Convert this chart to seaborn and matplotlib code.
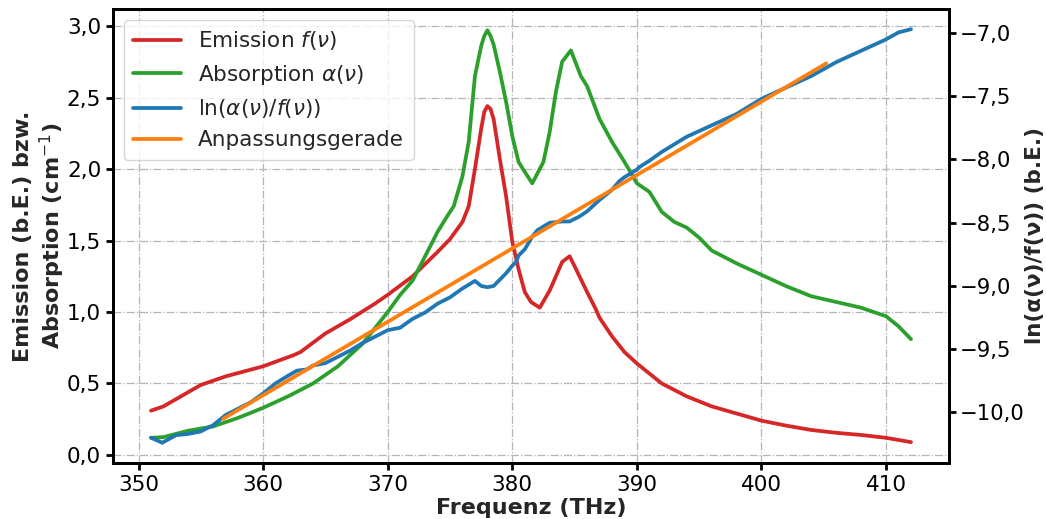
import numpy as np
import pandas as pd
import matplotlib
matplotlib.use("Agg")
import matplotlib.pyplot as plt
from matplotlib.ticker import FuncFormatter, MultipleLocator
import seaborn as sns

# ---- data ----
em_freq = [351, 352, 353, 355, 357, 360, 362.5, 363, 365, 367, 369, 370, 372, 374, 375, 376,
           376.5, 377, 377.5, 377.75, 378, 378.25, 378.5, 379, 379.5, 380, 380.5, 381, 381.5,
           382.2, 383, 384, 384.6, 385, 386, 386.7, 387, 388, 389, 390, 392, 394, 396, 398,
           400, 402, 404, 406, 408, 410, 412]
em_vals = [0.31, 0.34, 0.39, 0.49, 0.55, 0.62, 0.70, 0.72, 0.85, 0.95, 1.06, 1.12, 1.25, 1.42,
           1.51, 1.63, 1.74, 2.00, 2.28, 2.40, 2.44, 2.42, 2.35, 2.07, 1.81, 1.49, 1.30, 1.14,
           1.07, 1.03, 1.15, 1.35, 1.39, 1.32, 1.14, 1.02, 0.96, 0.83, 0.72, 0.64, 0.50, 0.41,
           0.34, 0.29, 0.24, 0.205, 0.175, 0.155, 0.14, 0.12, 0.09]

ab_freq = [351, 352, 354, 356, 358, 360, 362, 364, 366, 368, 370, 371, 372, 373, 374, 374.7,
           375.3, 376, 376.5, 377, 377.5, 377.75, 378, 378.25, 378.5, 379, 379.5, 380, 380.5,
           381, 381.6, 382.5, 383, 383.5, 384, 384.7, 385.5, 386, 387, 388, 389, 390, 391,
           392, 393, 394, 395, 396, 398, 400, 402, 404, 406, 408, 410, 411, 412]
ab_vals = [0.12, 0.125, 0.17, 0.20, 0.26, 0.33, 0.41, 0.50, 0.62, 0.78, 1.00, 1.12, 1.22,
           1.39, 1.56, 1.66, 1.74, 1.95, 2.19, 2.65, 2.86, 2.93, 2.97, 2.93, 2.87, 2.68, 2.47,
           2.23, 2.05, 1.98, 1.90, 2.05, 2.26, 2.54, 2.75, 2.83, 2.65, 2.58, 2.35, 2.19, 2.05,
           1.90, 1.84, 1.70, 1.63, 1.59, 1.52, 1.43, 1.34, 1.26, 1.18, 1.11, 1.07, 1.03, 0.97,
           0.90, 0.81]

ln_freq = [351, 351.9, 353, 354, 355, 356, 357, 358, 359, 360, 361, 362, 362.7, 363.5, 364,
           365, 366, 367, 368, 369, 370, 371, 372, 373, 374, 375, 376, 377, 377.5, 378, 378.5,
           379, 379.5, 380, 380.3, 380.5, 381, 381.6, 382, 383, 384, 384.6, 385.4, 386, 387,
           388, 388.6, 389, 390, 390.2, 391, 392, 394, 396, 398, 400, 402, 404, 406, 408, 410,
           411, 412]
ln_vals = [-10.20, -10.24, -10.18, -10.17, -10.15, -10.10, -10.02, -9.97, -9.92, -9.85, -9.77,
           -9.71, -9.67, -9.66, -9.63, -9.61, -9.56, -9.51, -9.45, -9.40, -9.35, -9.33, -9.26,
           -9.21, -9.14, -9.09, -9.02, -8.96, -9.00, -9.01, -9.00, -8.95, -8.90, -8.84, -8.81,
           -8.76, -8.71, -8.61, -8.56, -8.50, -8.49, -8.49, -8.45, -8.41, -8.32, -8.24, -8.17,
           -8.14, -8.08, -8.06, -8.01, -7.94, -7.82, -7.73, -7.64, -7.52, -7.43, -7.34, -7.23,
           -7.14, -7.05, -6.995, -6.97]

fit_freq = [356.8, 405.2]
fit_vals = [-10.05, -7.24]

labels = ["Emission $f(\\nu)$", "Absorption $\\alpha(\\nu)$",
          "$\\ln(\\alpha(\\nu)/f(\\nu))$", "Anpassungsgerade"]
colors = ["#d62728", "#2ca02c", "#1f77b4", "#ff7f0e"]

# ---- style ----
sns.set_theme(style="ticks")
plt.rcParams["font.family"] = ["DejaVu Sans"]
plt.rcParams["mathtext.fontset"] = "dejavusans"

fig = plt.figure(figsize=(10.46, 5.19), dpi=100)
ax = fig.add_axes([113 / 1046, 1 - 463 / 519, (949 - 113) / 1046, (463 - 9) / 519])
ax2 = ax.twinx()

lw = 2.7
sns.lineplot(x=em_freq, y=em_vals, ax=ax, color=colors[0], lw=lw, label=labels[0], legend=False)
sns.lineplot(x=ab_freq, y=ab_vals, ax=ax, color=colors[1], lw=lw, label=labels[1], legend=False)
sns.lineplot(x=ln_freq, y=ln_vals, ax=ax2, color=colors[2], lw=lw, label=labels[2], legend=False)
sns.lineplot(x=fit_freq, y=fit_vals, ax=ax2, color=colors[3], lw=lw, label=labels[3], legend=False)

ax.set_xlim(347.95, 415.05)
ax.set_ylim(-0.056, 3.119)
ax2.set_ylim(-10.40, -6.81)

ax.xaxis.set_major_locator(MultipleLocator(10))
ax.yaxis.set_major_locator(MultipleLocator(0.5))
ax2.yaxis.set_major_locator(MultipleLocator(0.5))
comma = FuncFormatter(lambda v, p: f"{v:.1f}".replace(".", ",").replace("-", "\u2212"))
ax.yaxis.set_major_formatter(comma)
ax2.yaxis.set_major_formatter(comma)

ax.grid(True, linestyle="-.", color="#b5b5b5", linewidth=0.9)
ax2.grid(False)

for a in (ax, ax2):
    for s in a.spines.values():
        s.set_linewidth(2.0)
        s.set_color("black")
    a.tick_params(axis="both", which="major", labelsize=15.5, length=5, width=2,
                  color="black", labelcolor="black")
ax.tick_params(top=False)
ax2.tick_params(axis="y", labelsize=15.2, pad=3)

ax.set_xlabel("Frequenz (THz)", fontsize=16, fontweight="bold", labelpad=2)
ax.set_ylabel("Emission (b.E.) bzw.\nAbsorption (cm$^{-1}$)", fontsize=16,
              fontweight="bold", labelpad=0)
ax2.set_ylabel("ln(α(ν)/f(ν)) (b.E.)", fontsize=15.5, fontweight="bold", labelpad=0)

h1, l1 = ax.get_legend_handles_labels()
h2, l2 = ax2.get_legend_handles_labels()
leg = ax2.legend(h1 + h2, l1 + l2, loc="upper left", fontsize=15.5, handlelength=2.2,
                 frameon=True, framealpha=0.8, edgecolor="#cccccc", borderpad=0.45,
                 labelspacing=0.48, bbox_to_anchor=(0.0, 1.0))
leg.get_frame().set_linewidth(1.0)

fig.savefig("out.png", dpi=100)
